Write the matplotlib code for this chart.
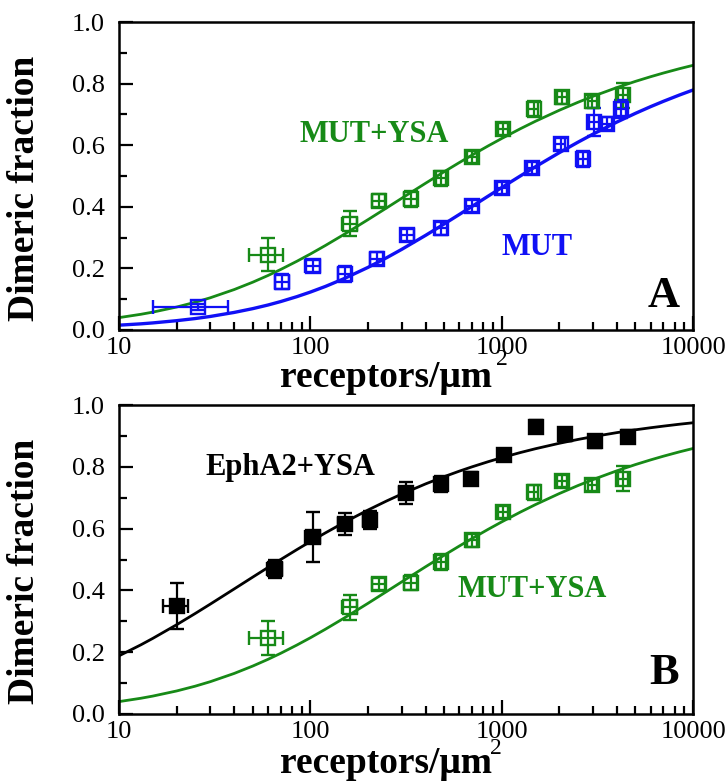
import matplotlib
matplotlib.use("Agg")
import matplotlib.pyplot as plt
from matplotlib.ticker import FixedLocator, NullFormatter, FixedFormatter

plt.rcParams['font.family'] = ['Liberation Serif', 'DejaVu Serif']

# ---------------- data ----------------
# fitted curves
curve_x = [10, 13, 15, 20, 25, 30, 40, 50, 60, 70, 85, 100, 120, 150, 200, 250, 300, 400, 500, 600,
           700, 850, 1000, 1250, 1500, 2000, 2500, 3000, 4000, 5000, 6000, 7000, 8500, 10000]
curve_mut_ysa = [0.0401, 0.0509, 0.0579, 0.0745, 0.0900, 0.1046, 0.1313, 0.1552, 0.1768, 0.1965,
                 0.2231, 0.2467, 0.2746, 0.3103, 0.3582, 0.3962, 0.4275, 0.4765, 0.5138, 0.5435,
                 0.5680, 0.5978, 0.6218, 0.6533, 0.6777, 0.7135, 0.7392, 0.7588, 0.7872, 0.8073,
                 0.8224, 0.8344, 0.8485, 0.8594]
curve_mut = [0.0156, 0.0199, 0.0229, 0.0302, 0.0371, 0.0439, 0.0570, 0.0693, 0.0810, 0.0923,
             0.1082, 0.1231, 0.1415, 0.1667, 0.2032, 0.2344, 0.2617, 0.3072, 0.3441, 0.3750,
             0.4014, 0.4347, 0.4624, 0.5000, 0.5300, 0.5758, 0.6096, 0.6360, 0.6752, 0.7035,
             0.7252, 0.7425, 0.7631, 0.7793]
curve_epha2_ysa = [0.1883, 0.2238, 0.2446, 0.2889, 0.3252, 0.3557, 0.4048, 0.4431, 0.4741, 0.5000,
                   0.5320, 0.5581, 0.5864, 0.6197, 0.6601, 0.6893, 0.7118, 0.7447, 0.7681, 0.7859,
                   0.8000, 0.8166, 0.8296, 0.8461, 0.8585, 0.8762, 0.8885, 0.8977, 0.9107, 0.9198,
                   0.9265, 0.9317, 0.9379, 0.9426]

# MUT+YSA data
mut_ysa_x = [60, 161, 228, 334, 482, 702, 1016, 1466, 2070, 2980, 4300]
mut_ysa_y = [0.245, 0.345, 0.42, 0.425, 0.492, 0.562, 0.653, 0.717, 0.755, 0.742, 0.762]
mut_ysa_yerr = [0.055, 0.04, 0.02, 0.025, 0.025, 0.02, 0.02, 0.025, 0.02, 0.02, 0.04]
mut_ysa_xerr = [12, 14, 18, 25, 30, 45, 60, 90, 120, 170, 250]

# MUT data
mut_x = [26, 71, 103, 152, 223, 321, 482, 702, 1000, 1441, 2030, 2650, 3030, 3550, 4200]
mut_y = [0.075, 0.157, 0.208, 0.182, 0.232, 0.308, 0.330, 0.403, 0.462, 0.525, 0.603, 0.555, 0.676, 0.670, 0.718]
mut_yerr = [0.01, 0.025, 0.02, 0.025, 0.02, 0.02, 0.02, 0.02, 0.02, 0.02, 0.02, 0.025, 0.045, 0.02, 0.03]
mut_xerr = [11, 6, 9, 12, 18, 25, 35, 50, 60, 90, 120, 160, 180, 220, 260]

# EphA2+YSA data
eph_x = [20, 65, 103, 152, 205, 316, 482, 695, 1028, 1507, 2133, 3076, 4560]
eph_y = [0.35, 0.47, 0.573, 0.615, 0.628, 0.715, 0.745, 0.762, 0.838, 0.930, 0.905, 0.882, 0.898]
eph_yerr = [0.075, 0.03, 0.08, 0.035, 0.03, 0.035, 0.025, 0.02, 0.02, 0.02, 0.02, 0.02, 0.02]
eph_xerr = [3, 6, 9, 12, 16, 25, 35, 50, 70, 100, 140, 200, 280]

x_ticks = [10, 100, 1000, 10000]
x_ticklabels = ['10', '100', '1000', '10000']
y_ticks = [0.0, 0.2, 0.4, 0.6, 0.8, 1.0]
y_ticklabels = ['0.0', '0.2', '0.4', '0.6', '0.8', '1.0']

GREEN = '#178a17'
BLUE = '#1010f5'
BLACK = '#000000'

fig = plt.figure(figsize=(7.28, 7.81), dpi=100)
axA = fig.add_axes([0.1635, 0.5775, 0.7885, 0.3943])
axB = fig.add_axes([0.1635, 0.0858, 0.7885, 0.3956])


def style_axes(ax):
    ax.set_xscale('log')
    ax.set_xlim(10, 10000)
    ax.set_ylim(0, 1.0)
    ax.xaxis.set_major_locator(FixedLocator(x_ticks))
    ax.xaxis.set_major_formatter(FixedFormatter(x_ticklabels))
    minors = [m * 10 ** e for e in range(1, 4) for m in range(2, 10)]
    ax.xaxis.set_minor_locator(FixedLocator(minors))
    ax.xaxis.set_minor_formatter(NullFormatter())
    ax.yaxis.set_major_locator(FixedLocator(y_ticks))
    ax.yaxis.set_major_formatter(FixedFormatter(y_ticklabels))
    ax.yaxis.set_minor_locator(FixedLocator([0.1, 0.3, 0.5, 0.7, 0.9]))
    ax.tick_params(which='both', direction='in', top=False, right=False, width=1.6)
    ax.tick_params(which='major', length=10, labelsize=19)
    ax.tick_params(which='minor', length=6)
    ax.tick_params(axis='y', which='major', pad=10)
    ax.tick_params(axis='x', which='major', pad=5)
    for s in ax.spines.values():
        s.set_linewidth(1.8)
    ax.set_ylabel('Dimeric fraction', fontsize=27, fontweight='bold')
    ax.yaxis.set_label_coords(-0.135, 0.46)


def plot_set(ax, x, y, xerr, yerr, color, filled):
    ax.errorbar(x, y, xerr=xerr, yerr=yerr, fmt='s', color=color, ms=10.5,
                mfc=color if filled else 'none', mec=color, mew=1.7,
                elinewidth=1.6, capsize=5, capthick=1.6, zorder=3)


style_axes(axA)
style_axes(axB)

# Panel A
axA.plot(curve_x, curve_mut_ysa, color=GREEN, lw=2.0, zorder=2)
axA.plot(curve_x, curve_mut, color=BLUE, lw=2.4, zorder=2)
plot_set(axA, mut_ysa_x, mut_ysa_y, mut_ysa_xerr, mut_ysa_yerr, GREEN, False)
plot_set(axA, mut_x, mut_y, mut_xerr, mut_yerr, BLUE, False)
axA.text(0.314, 0.61, 'MUT+YSA', transform=axA.transAxes, color=GREEN,
         fontsize=22, fontweight='bold', ha='left', va='baseline')
axA.text(0.667, 0.244, 'MUT', transform=axA.transAxes, color=BLUE,
         fontsize=22, fontweight='bold', ha='left', va='baseline')
axA.text(0.976, 0.075, 'A', transform=axA.transAxes, color='black',
         fontsize=32, fontweight='bold', ha='right', va='baseline')
axA.text(0.465, -0.185, 'receptors/μm', transform=axA.transAxes, fontsize=27,
         fontweight='bold', ha='center', va='baseline')
axA.text(0.667, -0.114, '2', transform=axA.transAxes, fontsize=17,
         ha='center', va='baseline')

# Panel B
axB.plot(curve_x, curve_epha2_ysa, color=BLACK, lw=2.0, zorder=2)
axB.plot(curve_x, curve_mut_ysa, color=GREEN, lw=2.0, zorder=2)
plot_set(axB, eph_x, eph_y, eph_xerr, eph_yerr, BLACK, True)
plot_set(axB, mut_ysa_x, mut_ysa_y, mut_ysa_xerr, mut_ysa_yerr, GREEN, False)
axB.text(0.15, 0.773, 'EphA2+YSA', transform=axB.transAxes, color=BLACK,
         fontsize=22, fontweight='bold', ha='left', va='baseline')
axB.text(0.589, 0.379, 'MUT+YSA', transform=axB.transAxes, color=GREEN,
         fontsize=22, fontweight='bold', ha='left', va='baseline')
axB.text(0.976, 0.097, 'B', transform=axB.transAxes, color='black',
         fontsize=32, fontweight='bold', ha='right', va='baseline')
axB.text(0.465, -0.192, 'receptors/μm', transform=axB.transAxes, fontsize=27,
         fontweight='bold', ha='center', va='baseline')
axB.text(0.657, -0.129, '2', transform=axB.transAxes, fontsize=17,
         ha='center', va='baseline')

fig.savefig('out.png', dpi=100)
